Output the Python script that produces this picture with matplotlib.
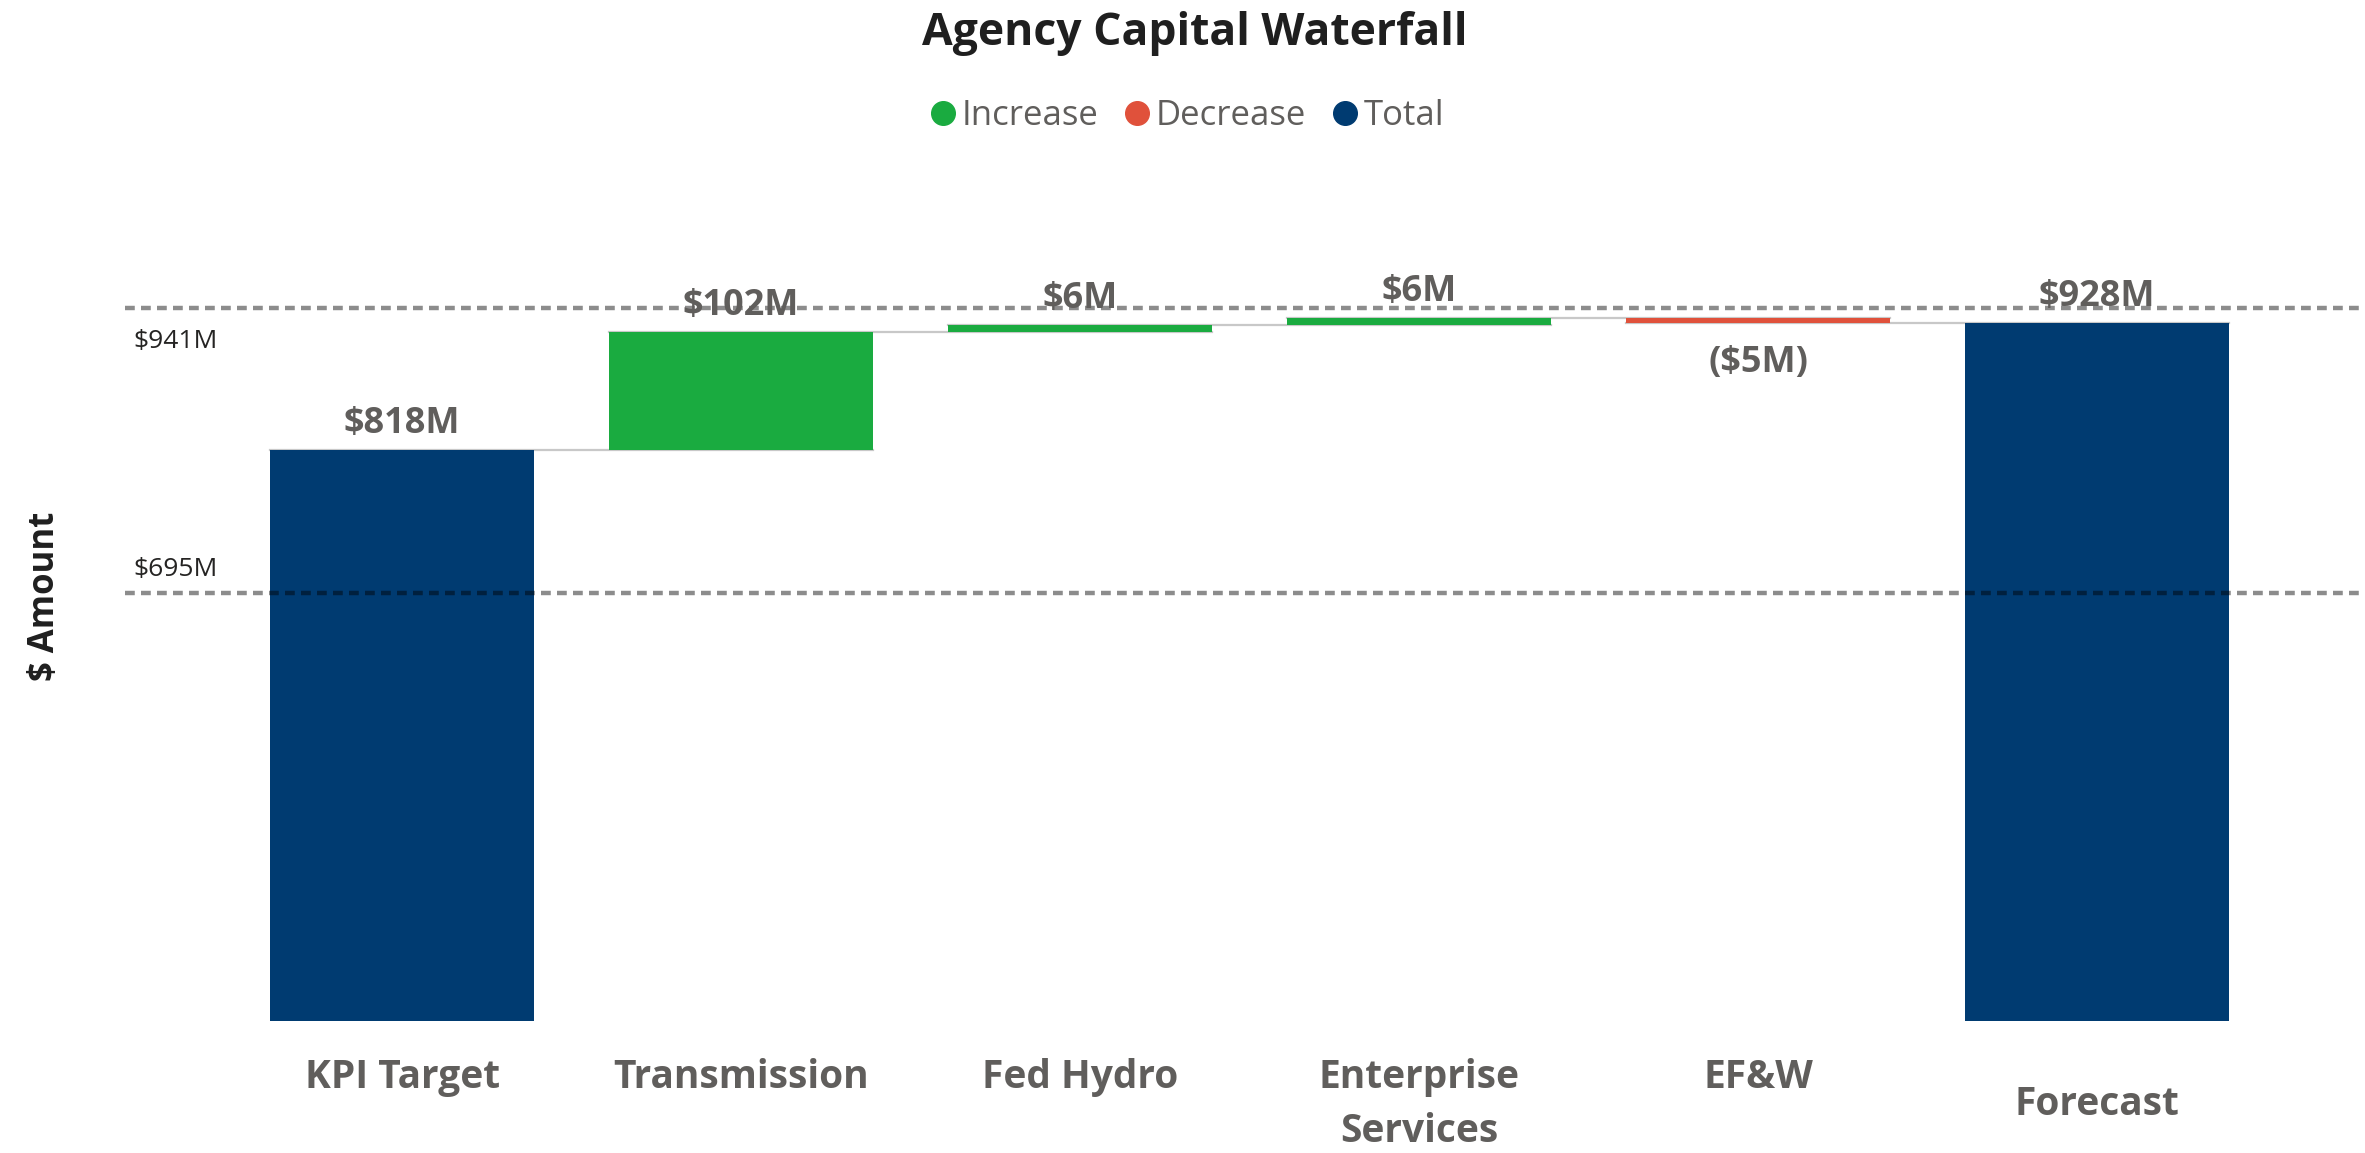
import matplotlib
matplotlib.use("Agg")
import matplotlib.pyplot as plt
import matplotlib.transforms as mtransforms
from matplotlib.lines import Line2D

plt.rcParams['font.family'] = ['Open Sans', 'DejaVu Sans']

# Data ($M)
categories = ['KPI Target', 'Transmission', 'Fed Hydro', 'Enterprise\nServices', 'EF&W', 'Forecast']
start_value = 818.2
changes = [101.8, 6.2, 6.3, -4.6]
ref_values = [941, 695]
ref_labels = ['$941M', '$695M']

green = '#1aab40'
red = '#e0513b'
navy = '#003b71'
label_gray = '#605e5c'


def money(v):
    s = '$%dM' % round(abs(v))
    return '(%s)' % s if v < 0 else s


# build bottoms / heights / colours
bottoms, heights, colors, values = [0], [start_value], [navy], [start_value]
running = start_value
for c in changes:
    bottoms.append(running if c >= 0 else running + c)
    heights.append(abs(c))
    colors.append(green if c >= 0 else red)
    values.append(c)
    running += c
bottoms.append(0)
heights.append(running)
colors.append(navy)
values.append(running)

levels = [start_value]
run = start_value
for c in changes:
    run += c
    levels.append(run)

fig = plt.figure(figsize=(23.65, 11.53), dpi=100)
ax = fig.add_axes([0.0529, 0.1145, 0.9471, 0.6687])

x = list(range(len(categories)))
w = 0.78
ax.bar(x, heights, bottom=bottoms, width=w, color=colors, zorder=2)

# connector lines between bars
for i, lv in enumerate(levels):
    ax.plot([i - w / 2, i + 1 + w / 2], [lv, lv], color='#c8c8c8', lw=1.6, zorder=1)

# reference lines
for rv in ref_values:
    ax.axhline(rv, color='black', alpha=0.45, lw=3.2, linestyle=(0, (2.2, 1.4)), zorder=3)
ax.annotate(ref_labels[0], xy=(0.0036, ref_values[0]), xycoords=ax.get_yaxis_transform(),
            xytext=(0, -24), textcoords='offset points', va='center', ha='left',
            fontsize=19, color='#252423')
ax.annotate(ref_labels[1], xy=(0.0036, ref_values[1]), xycoords=ax.get_yaxis_transform(),
            xytext=(0, 17), textcoords='offset points', va='center', ha='left',
            fontsize=19, color='#252423')

# value labels
for i, v in enumerate(values):
    if v < 0:
        ax.annotate(money(v), xy=(i, bottoms[i]), xytext=(0, -16), textcoords='offset points',
                    ha='center', va='top', fontsize=26, fontweight='bold', color=label_gray)
    else:
        ax.annotate(money(v), xy=(i, bottoms[i] + heights[i]), xytext=(0, 6),
                    textcoords='offset points', ha='center', va='bottom',
                    fontsize=26, fontweight='bold', color=label_gray, zorder=4)

# category labels
trans = mtransforms.blended_transform_factory(ax.transData, ax.transAxes)
for i, cat in enumerate(categories):
    if i == len(categories) - 1:
        ax.annotate(cat, xy=(i, 0), xycoords=trans, xytext=(0, -60), textcoords='offset points',
                    ha='center', va='center', fontsize=28, fontweight='bold', color=label_gray)
    else:
        ax.annotate(cat, xy=(i, 0), xycoords=trans, xytext=(0, -27), textcoords='offset points',
                    ha='center', va='top', fontsize=28, fontweight='bold', color=label_gray,
                    linespacing=1.5)

ax.set_xlim(-0.817, 5.79)
ax.set_ylim(325.6, 991.1)
ax.set_xticks([])
ax.set_yticks([])
for s in ax.spines.values():
    s.set_visible(False)

fig.text(0.019, 0.483, '$ Amount', rotation=90, ha='center', va='center',
         fontsize=25, fontweight='bold', color='#1f1f1f')
fig.text(0.505, 0.971, 'Agency Capital Waterfall', ha='center', va='center',
         fontsize=32, fontweight='bold', color='#1f1f1f')

handles = [Line2D([], [], marker='o', linestyle='', markersize=17, color=green),
           Line2D([], [], marker='o', linestyle='', markersize=17, color=red),
           Line2D([], [], marker='o', linestyle='', markersize=17, color=navy)]
fig.legend(handles, ['Increase', 'Decrease', 'Total'], loc='center', bbox_to_anchor=(0.501, 0.899),
           ncol=3, frameon=False, fontsize=25, handletextpad=0.05, columnspacing=0.6,
           labelcolor=label_gray, handlelength=1.0)

fig.savefig('out.png', dpi=100)
